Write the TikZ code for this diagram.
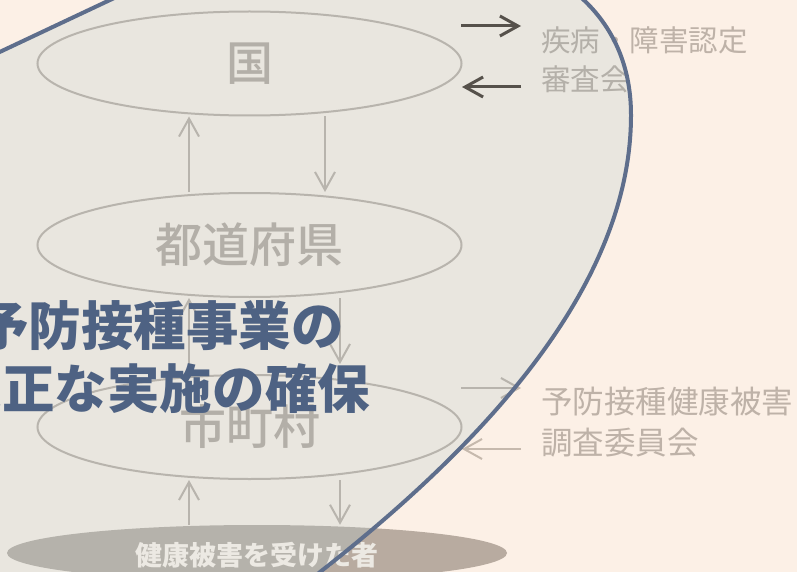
\documentclass[tikz,border=0pt]{standalone}
\usepackage{fontspec}
\setmainfont{Noto Sans CJK JP}
\newfontfamily\jpmed{Noto Sans CJK JP Medium}
\usetikzlibrary{arrows.meta,shapes.geometric}
\definecolor{bg}{HTML}{FCF0E6}
\definecolor{blobfill}{HTML}{E9E6DF}
\definecolor{blobline}{HTML}{5E6E8C}
\definecolor{ellline}{HTML}{B8B4AD}
\definecolor{elltext}{HTML}{B3AFA8}
\definecolor{darkarrow}{HTML}{56514B}
\definecolor{titlecol}{HTML}{4E6283}
\definecolor{outarrow}{HTML}{C6B9AD}
\definecolor{outlabel}{HTML}{BEB2A8}
\definecolor{inlabel}{HTML}{B4B0A9}
\definecolor{outbottom}{HTML}{B8ABA0}
\definecolor{inbottom}{HTML}{B5B2AB}
\definecolor{bottomtextcol}{HTML}{ECE9E3}

\newcommand\blobpath{(-100,99) -- (110,0) .. controls (335,-107) and (631,-85) .. (631,115) .. controls (631,250) and (540,400) .. (320,572) -- (240,640) -- (-100,640) -- cycle}

\newcommand\crosspart{%
  \node[bottomell, fill=xbottom] (e4) at (257,553) {};
  \node[sidelabel, text=xlabel, font=\fontsize{29.5}{39}\selectfont] (l1) at (541,60) {疾病・障害認定\\審査会};
  \node[sidelabel, text=xlabel, font=\fontsize{31.5}{41}\selectfont] (l2) at (541,422) {予防接種健康被害\\調査委員会};
  \draw[grayarrow, draw=xarrow] (c3s) -- (c3e);
  \draw[grayarrow, draw=xarrow] (c4s) -- (c4e);
}

\begin{document}
\begin{tikzpicture}[x=1pt,y=-1pt,
  bigell/.style={ellipse, draw=ellline, line width=2pt, minimum width=424pt, minimum height=104pt, inner sep=0pt, text=elltext, font=\jpmed\fontsize{47}{56}\selectfont},
  bottomell/.style={ellipse, draw=none, minimum width=500pt, minimum height=56pt, inner sep=0pt},
  sidelabel/.style={anchor=west, align=left, inner sep=0pt},
  grayarrow/.style={draw=ellline, line width=2pt, -{Straight Barb[length=18pt,width=20pt]}},
  darkarr/.style={draw=darkarrow, line width=3pt, -{Straight Barb[length=18pt,width=20pt]}},
  titletext/.style={align=center, inner sep=0pt, text=titlecol, font=\bfseries\fontsize{52.5}{63}\selectfont},
  bottomtext/.style={inner sep=0pt, text=bottomtextcol, font=\bfseries\fontsize{27}{32}\selectfont}]
\useasboundingbox (0,0) rectangle (797,572);
\clip (0,0) rectangle (797,572);
\fill[bg] (0,0) rectangle (797,572);
\coordinate (c1s) at (461,26);
\coordinate (c1e) at (521,26);
\coordinate (c2s) at (521,87);
\coordinate (c2e) at (462,87);
\coordinate (c3s) at (461,388);
\coordinate (c3e) at (521,388);
\coordinate (c4s) at (521,449);
\coordinate (c4e) at (462,449);
\coordinate (u) at (189,0);
\coordinate (d1) at (325,0);
\coordinate (d2) at (340,0);
% parts outside the blob
\begin{scope}
  \colorlet{xbottom}{outbottom}\colorlet{xlabel}{outlabel}\colorlet{xarrow}{outarrow}
  \crosspart
\end{scope}
% blob
\fill[blobfill] \blobpath;
\begin{scope}
  \clip \blobpath;
  \colorlet{xbottom}{inbottom}\colorlet{xlabel}{inlabel}\colorlet{xarrow}{ellline}
  \crosspart
\end{scope}
% main ellipses
\node[bigell] (e1) at (249.5,63.5) {国};
\node[bigell] (e2) at (249.5,245) {都道府県};
\node[bigell] (e3) at (249.5,427) {市町村};
% vertical arrows
\draw[grayarrow] (e2.north -| u) -- (e1.south -| u);
\draw[grayarrow] (e1.south -| d1) -- (e2.north -| d1);
\draw[grayarrow] (e3.north -| u) -- (e2.south -| u);
\draw[grayarrow, shorten >=10pt] (e2.south -| d2) -- (e3.north -| d2);
\draw[grayarrow] (e4.north -| u) -- (e3.south -| u);
\draw[grayarrow] (e3.south -| d2) -- (e4.north -| d2);
% dark arrows to the committee
\draw[darkarr] (c1s) -- (c1e);
\draw[darkarr] (c2s) -- (c2e);
% bottom text
\node[bottomtext] (bt) at (256.5,555) {健康被害を受けた者};
% title
\node[titletext] (title) at (160,357) {予防接種事業の\\適正な実施の確保};
% blob border
\draw[blobline, line width=4pt] \blobpath;
\end{tikzpicture}
\end{document}
